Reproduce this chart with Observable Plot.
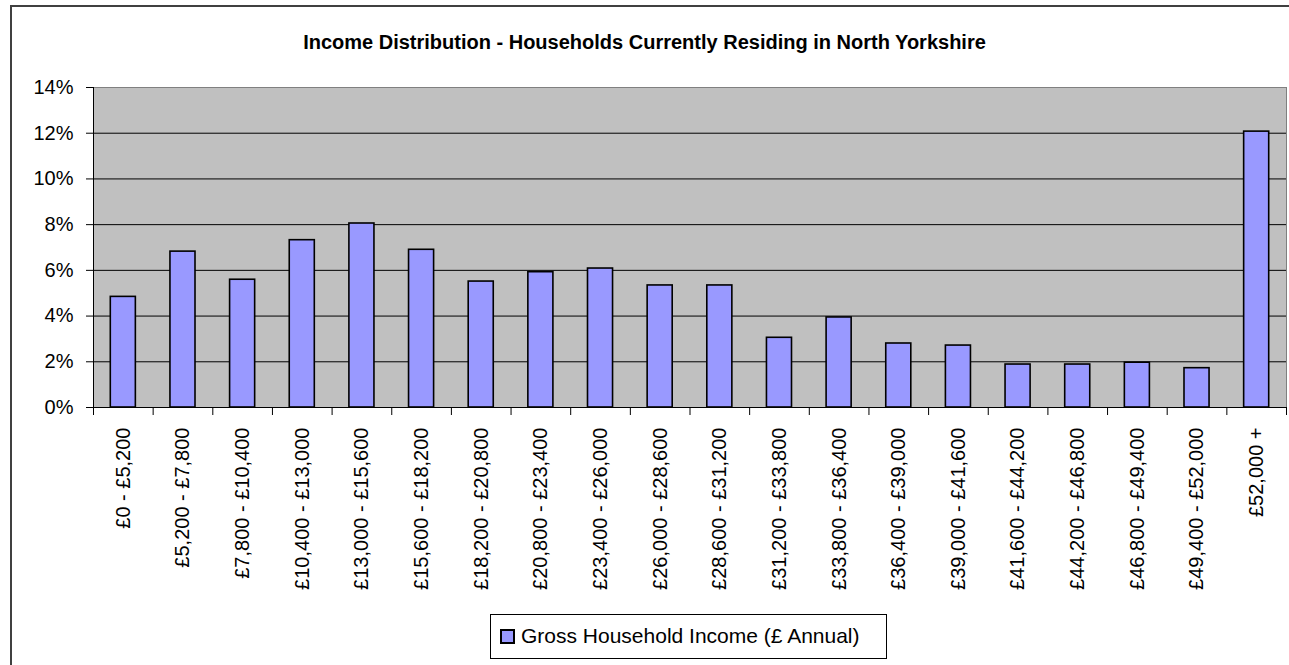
<!DOCTYPE html>
<html>
<head>
<meta charset="utf-8">
<script src="https://cdn.jsdelivr.net/npm/d3@7"></script>
<script src="https://cdn.jsdelivr.net/npm/@observablehq/plot@0.6"></script>
<style>
  html, body { margin: 0; padding: 0; background: #fff; }
  #wrap { position: relative; width: 1289px; height: 665px; overflow: hidden; background: #fff;
          font-family: "Liberation Sans", Arial, sans-serif; color: #000; }
  #border { position: absolute; left: 10px; top: 5px; width: 1400px; height: 800px; border: 2px solid #404040; }
  #title { position: absolute; left: 0; top: 32px; width: 1289px; text-align: center; font-weight: bold;
           font-size: 20px; line-height: 20px; }
  #chart { position: absolute; left: 0; top: 0; }
  #legend { position: absolute; left: 490px; top: 614px; width: 395px; height: 43px; border: 1px solid #000; background: #fff; }
  #swatch { position: absolute; left: 9px; top: 14px; width: 11px; height: 11px; background: #9999FF; border: 2px solid #000; }
  #ltext { position: absolute; left: 30px; top: 10px; font-size: 21px; line-height: 21px; white-space: nowrap; }
</style>
</head>
<body>
<div id="wrap">
  <div id="border"></div>
  <div id="chart"></div>
  <div id="title"></div>
  <div id="legend"><div id="swatch"></div><div id="ltext"></div></div>
</div>
<script>
const titleText = "Income Distribution - Households Currently Residing in North Yorkshire";
const seriesName = "Gross Household Income (£ Annual)";
const categories = [
  "£0 - £5,200", "£5,200 - £7,800", "£7,800 - £10,400", "£10,400 - £13,000",
  "£13,000 - £15,600", "£15,600 - £18,200", "£18,200 - £20,800", "£20,800 - £23,400",
  "£23,400 - £26,000", "£26,000 - £28,600", "£28,600 - £31,200", "£31,200 - £33,800",
  "£33,800 - £36,400", "£36,400 - £39,000", "£39,000 - £41,600", "£41,600 - £44,200",
  "£44,200 - £46,800", "£46,800 - £49,400", "£49,400 - £52,000", "£52,000 +"
];
const shares = [4.84, 6.82, 5.59, 7.32, 8.05, 6.90, 5.51, 5.92, 6.08, 5.34,
                5.34, 3.05, 3.94, 2.80, 2.71, 1.88, 1.88, 1.96, 1.72, 12.07];
const yTicks = [0, 2, 4, 6, 8, 10, 12, 14];

document.getElementById("title").textContent = titleText;
document.getElementById("ltext").textContent = seriesName;

const data = categories.map((c, i) => ({cat: c, share: shares[i]}));

const W = 1289, H = 665, mL = 93, mR = 3, mT = 87, mB = 258;
const step = (W - mL - mR) / categories.length;

const chart = Plot.plot({
  width: W, height: H,
  marginTop: mT, marginBottom: mB, marginLeft: mL, marginRight: mR,
  style: {fontFamily: "'Liberation Sans', Arial, sans-serif", fontSize: "20px", background: "transparent", color: "#000", overflow: "visible"},
  x: {domain: categories, paddingInner: 0.58, paddingOuter: 0.29, round: false, label: null},
  y: {domain: [0, 14], label: null},
  marks: [
    Plot.frame({fill: "#C0C0C0", stroke: "#808080"}),
    Plot.gridY({ticks: yTicks.filter(t => t > 0 && t < 14), stroke: "#000", strokeOpacity: 1}),
    Plot.barY(data, {x: "cat", y: "share", fill: "#9999FF", stroke: "#000", strokeWidth: 1.6}),
    Plot.ruleY([0], {stroke: "#000"}),
    Plot.ruleX([categories[0]], {dx: -step / 2, stroke: "#000"}),
    Plot.axisY({ticks: yTicks, tickSize: 7, tickPadding: 13, tickFormat: d => d + "%", label: null}),
    Plot.axisX({ticks: categories, tickSize: 8, tickFormat: () => "", dx: -step / 2, label: null}),
    Plot.axisX({ticks: [categories[categories.length - 1]], tickSize: 8, tickFormat: () => "", dx: step / 2, label: null}),
    Plot.axisX({ticks: categories, tickSize: 0, tickPadding: 20, tickRotate: -90, label: null})
  ]
});
document.getElementById("chart").appendChild(chart);
</script>
</body>
</html>
